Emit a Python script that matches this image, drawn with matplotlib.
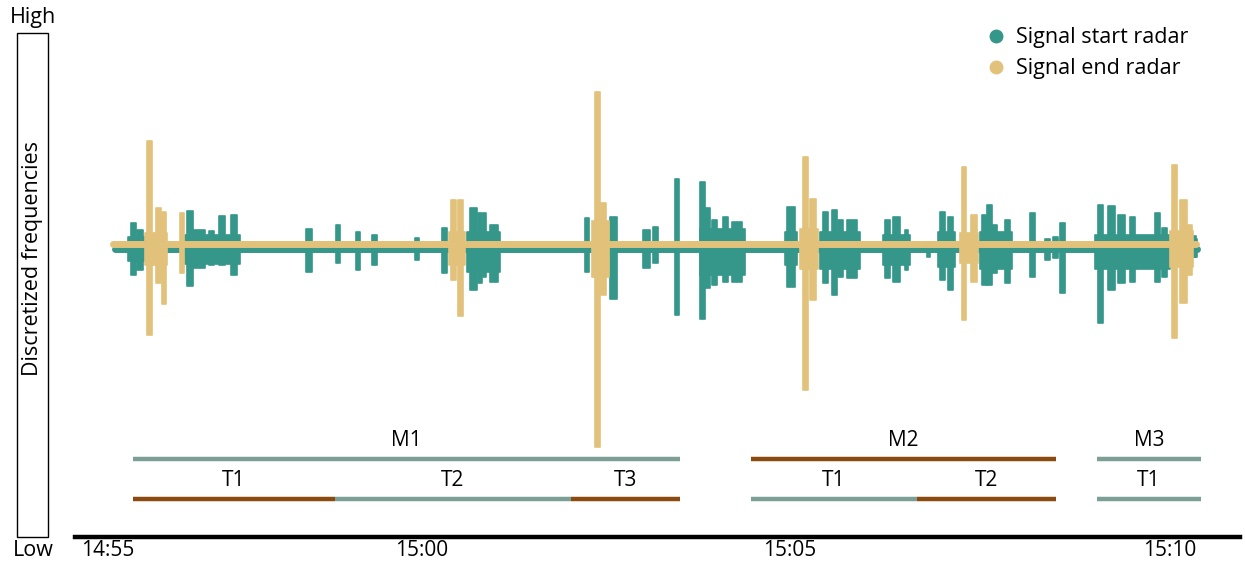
import numpy as np
import matplotlib.pyplot as plt
from matplotlib.patches import Rectangle
from matplotlib.lines import Line2D

plt.rcParams['font.family'] = ['Open Sans', 'DejaVu Sans']

# x = sample index along the recording, y = frequency bin offset from the carrier
# spikes: (start, end, top, bottom)
start_spikes = [
    (16, 21, 24, -28), (22, 28, 17, -23), (72, 78, 36, -39), (78, 90, 17, -21),
    (94, 99, 16, -18), (104, 110, 31, -18), (116, 122, 32, -28), (191, 197, 18, -25),
    (221, 225, 22, -16), (241, 245, 15, -23), (257, 262, 12, -18), (300, 304, 9, -13),
    (327, 332, 19, -26), (355, 362, 39, -43), (363, 367, 34, -36), (368, 371, 34, -30),
    (375, 383, 22, -35), (470, 474, 29, -25), (495, 502, 30, -52), (528, 535, 17, -21),
    (538, 543, 20, -16), (560, 564, 68, -68), (585, 590, 65, -72), (590, 595, 39, -41),
    (597, 602, 27, -38), (608, 613, 30, -35), (617, 627, 25, -35), (672, 680, 40, -40),
    (708, 713, 35, -36), (717, 722, 37, -48), (723, 728, 27, -30), (732, 742, 27, -31),
    (770, 775, 27, -31), (778, 785, 30, -35), (790, 793, 17, -23), (812, 815, 5, -10),
    (825, 830, 35, -33), (833, 838, 30, -43), (867, 872, 32, -38), (872, 877, 42, -38),
    (877, 882, 22, -26), (890, 895, 27, -36), (915, 920, 34, -30), (930, 935, 8, -13),
    (938, 943, 10, -11), (945, 950, 24, -46), (983, 988, 42, -76), (993, 1000, 41, -43),
    (1003, 1010, 32, -36), (1015, 1020, 30, -35), (1027, 1030, 7, -10), (1040, 1045, 34, -35),
    (1047, 1052, 19, -30), (1077, 1081, 11, -10),
    # dense low-level activity inside the bursts
    (13, 30, 10, -14), (70, 125, 12, -17), (352, 385, 15, -25), (585, 630, 18, -28),
    (670, 682, 15, -18), (705, 745, 15, -22), (768, 795, 12, -18), (823, 840, 15, -20),
    (865, 897, 15, -22), (980, 1055, 12, -22), (1075, 1082, 8, -10),
]
end_spikes = [
    (32, 37, 106, -88), (41, 46, 39, -36), (47, 51, 35, -57), (65, 69, 34, -26),
    (336, 341, 47, -33), (343, 348, 47, -69), (477, 494, 26, -30), (480, 485, 155, -200),
    (486, 491, 44, -48), (688, 693, 90, -143), (695, 701, 48, -53), (847, 851, 80, -73),
    (856, 862, 32, -35), (1057, 1062, 82, -91), (1065, 1072, 47, -56), (1072, 1077, 22, -28),
    (30, 52, 14, -18), (334, 350, 15, -18), (685, 703, 18, -22), (845, 863, 14, -16),
    (1055, 1078, 16, -20),
]
start_base = (0, 1082, -2)
end_base = (-2, 1081, 3)

tick_pos = [-7, 307, 675, 1055]
tick_labels = ['14:55', '15:00', '15:05', '15:10']

# periods: (start, end, label, colour)
m_periods = [(18, 565, 'M1', 'grey'), (636, 941, 'M2', 'brown'), (982, 1086, 'M3', 'grey')]
t_periods = [(18, 220, 'T1', 'brown'), (220, 456, 'T2', 'grey'), (456, 565, 'T3', 'brown'),
             (636, 802, 'T1', 'grey'), (802, 941, 'T2', 'brown'), (982, 1086, 'T1', 'grey')]

teal = '#35968a'
sand = '#e2c27b'
period_colors = {'grey': '#7b9e95', 'brown': '#8a4a10'}

fig = plt.figure(figsize=(12.45, 5.66), dpi=100)
ax = fig.add_axes([75 / 1245, 1 - 537 / 566, 1165 / 1245, 517 / 566])


def draw_signal(spikes, base, color, z):
    x0, x1, y0 = base
    ax.plot([x0, x1], [y0, y0], color=color, lw=5, solid_capstyle='round', zorder=z)
    for s, e, top, bot in spikes:
        ax.bar((s + e) / 2, top - bot, width=e - s, bottom=bot, color=color,
               edgecolor=color, linewidth=1.2, joinstyle='round', zorder=z)


draw_signal(start_spikes, start_base, teal, 2)
draw_signal(end_spikes, end_base, sand, 3)

for periods, y_line, y_text in [(m_periods, -212, -193), (t_periods, -252, -234)]:
    for s, e, lab, c in periods:
        ax.plot([s, e], [y_line, y_line], color=period_colors[c], lw=3.2,
                solid_capstyle='butt')
        ax.text((s + e) / 2, y_text, lab, ha='center', va='center', fontsize=15)

ax.set_xlim(-40, 1125)
ax.set_ylim(-290, 227)
for side in ['top', 'right', 'left']:
    ax.spines[side].set_visible(False)
ax.spines['bottom'].set_linewidth(3.2)
ax.set_yticks([])
ax.set_xticks(tick_pos)
ax.set_xticklabels(tick_labels, fontsize=15)
ax.tick_params(axis='x', length=0, pad=2)

# frequency scale box on the left
fig.add_artist(Rectangle((17 / 1245, 1 - 537 / 566), 31 / 1245, 504 / 566,
                         transform=fig.transFigure, fill=False, lw=1, color='black'))
fig.text(33 / 1245, 1 - 258 / 566, 'Discretized frequencies', rotation=90,
         ha='center', va='center', fontsize=15.5)
fig.text(33 / 1245, 1 - 18 / 566, 'High', ha='center', va='center', fontsize=15.5)
fig.text(33 / 1245, 1 - 550 / 566, 'Low', ha='center', va='center', fontsize=15.5)

handles = [Line2D([], [], marker='o', ls='', color=teal, markersize=9),
           Line2D([], [], marker='o', ls='', color=sand, markersize=9)]
fig.legend(handles, ['Signal start radar', 'Signal end radar'], loc='upper left',
           bbox_to_anchor=(962 / 1245, 1 - 8 / 566), frameon=False, fontsize=15.5,
           handletextpad=0.2, labelspacing=0.45, handlelength=1.4)

fig.savefig('out.png', dpi=100)
